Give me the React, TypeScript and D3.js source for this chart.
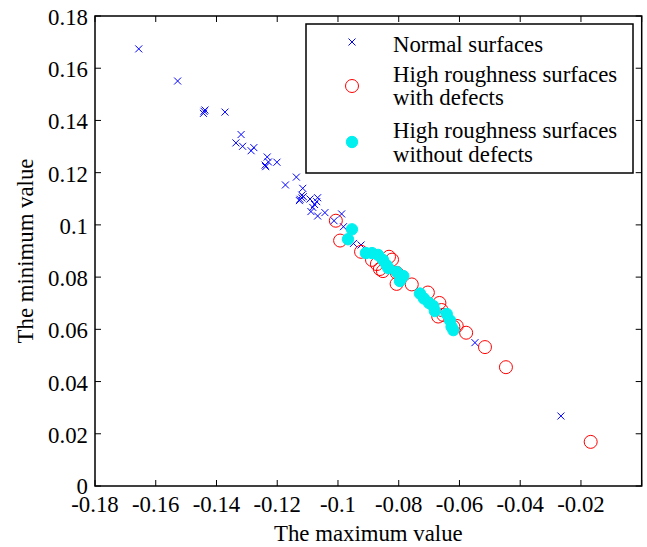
import React from "react";
import * as d3 from "d3";

const normalX = [-0.1656, -0.1528, -0.1441, -0.1438, -0.1443, -0.1372, -0.1319, -0.1336, -0.1314, -0.1286, -0.1277, -0.1233, -0.1229, -0.1238, -0.124, -0.1201, -0.1137, -0.1173, -0.1116, -0.1119, -0.1114, -0.1125, -0.1119, -0.1127, -0.1092, -0.1067, -0.107, -0.1077, -0.1083, -0.1089, -0.1067, -0.1043, -0.1013, -0.0988, -0.0982, -0.0949, -0.0924, -0.0666, -0.0549, -0.0266];
const normalY = [0.1674, 0.1551, 0.1435, 0.144, 0.1427, 0.1432, 0.1346, 0.1314, 0.1301, 0.1284, 0.1296, 0.126, 0.1241, 0.1223, 0.1229, 0.124, 0.1183, 0.1153, 0.114, 0.1114, 0.1108, 0.1098, 0.1103, 0.1093, 0.1099, 0.1104, 0.1089, 0.1078, 0.1067, 0.1051, 0.1034, 0.1047, 0.1016, 0.1042, 0.0993, 0.0929, 0.0923, 0.0668, 0.0549, 0.0268];

const defectX = [-0.1007, -0.0993, -0.0924, -0.0888, -0.0872, -0.0862, -0.0852, -0.0832, -0.0822, -0.0807, -0.0806, -0.0757, -0.0704, -0.0666, -0.0659, -0.0653, -0.067, -0.062, -0.0609, -0.0578, -0.0516, -0.0447, -0.0168];
const defectY = [0.1016, 0.094, 0.0897, 0.0866, 0.085, 0.0831, 0.0823, 0.0878, 0.0867, 0.0774, 0.0816, 0.0772, 0.0741, 0.0701, 0.0674, 0.0655, 0.0649, 0.061, 0.0613, 0.0587, 0.0532, 0.0455, 0.0169];

const smoothX = [-0.0954, -0.0967, -0.0908, -0.0888, -0.0868, -0.0852, -0.084, -0.0834, -0.0807, -0.0785, -0.0796, -0.073, -0.0717, -0.07, -0.0686, -0.0681, -0.0642, -0.0631, -0.0626, -0.062];
const smoothY = [0.0983, 0.0945, 0.0892, 0.0892, 0.0885, 0.0866, 0.0846, 0.0834, 0.082, 0.0804, 0.0785, 0.0737, 0.0718, 0.0701, 0.0689, 0.067, 0.0659, 0.0634, 0.061, 0.0597];

const xTicks = [-0.18, -0.16, -0.14, -0.12, -0.1, -0.08, -0.06, -0.04, -0.02, 0];
const yTicks = [0, 0.02, 0.04, 0.06, 0.08, 0.1, 0.12, 0.14, 0.16, 0.18];

const legendLabels = [["Normal surfaces"], ["High roughness surfaces", "with defects"], ["High roughness surfaces", "without defects"]];

const W = 647, H = 547;
const L = 95, R = 641.7, T = 16, B = 486;
const FONT = "Liberation Serif";
const FS = 22.8;

export default function App() {
  const x = d3.scaleLinear().domain([-0.18, 0]).range([L, R]);
  const y = d3.scaleLinear().domain([0, 0.18]).range([B, T]);
  const tl = 6;
  const fmt = (v: number) => {
    if (v === 0) return "0";
    return String(+v.toFixed(2));
  };
  return (
    <svg width={W} height={H} style={{ position: "absolute", left: 0, top: 0, background: "#fff" }}>
      <rect x={0} y={0} width={W} height={H} fill="#fff" />
      <g stroke="#0000ff" strokeWidth={1}>
        {normalX.map((v, i) => {
          const cx = x(v), cy = y(normalY[i]);
          const s = 3.5;
          return (
            <path key={i} d={`M${cx - s},${cy - s}L${cx + s},${cy + s}M${cx - s},${cy + s}L${cx + s},${cy - s}`} />
          );
        })}
      </g>
      <g stroke="#ff0000" strokeWidth={1} fill="none">
        {defectX.map((v, i) => (
          <circle key={i} cx={x(v)} cy={y(defectY[i])} r={6.5} />
        ))}
      </g>
      <g fill="#00f0f0" stroke="#00f0f0" strokeWidth={1}>
        {smoothX.map((v, i) => (
          <circle key={i} cx={x(v)} cy={y(smoothY[i])} r={5.7} />
        ))}
      </g>
      <rect x={L} y={T} width={R - L} height={B - T} fill="none" stroke="#000" strokeWidth={1.5} />
      <g stroke="#000" strokeWidth={1}>
        {xTicks.map((t, i) => (
          <g key={i}>
            <line x1={x(t)} x2={x(t)} y1={B} y2={B - tl} />
            <line x1={x(t)} x2={x(t)} y1={T} y2={T + tl} />
          </g>
        ))}
        {yTicks.map((t, i) => (
          <g key={i}>
            <line x1={L} x2={L + tl} y1={y(t)} y2={y(t)} />
            <line x1={R} x2={R - tl} y1={y(t)} y2={y(t)} />
          </g>
        ))}
      </g>
      <g fill="#000" fontFamily={FONT} fontSize={FS}>
        {xTicks.filter((t) => t !== 0).map((t, i) => (
          <text key={i} x={x(t)} y={B + 26} textAnchor="middle">{fmt(t)}</text>
        ))}
        {yTicks.map((t, i) => (
          <text key={i} x={L - 7} y={y(t) + (t === 0 ? 7.5 : 9)} textAnchor="end">{fmt(t)}</text>
        ))}
        <text x={(L + R) / 2} y={541} textAnchor="middle">The maximum value</text>
        <text transform={`translate(33,${(T + B) / 2}) rotate(-90)`} textAnchor="middle">The minimum value</text>
      </g>
      <rect x={306} y={24} width={327} height={149} fill="#fff" stroke="#000" strokeWidth={1.5} />
      <path d={`M${352 - 3.5},${42 - 3.5}L${352 + 3.5},${42 + 3.5}M${352 - 3.5},${42 + 3.5}L${352 + 3.5},${42 - 3.5}`} stroke="#0000ff" strokeWidth={1} />
      <circle cx={352} cy={86} r={6.5} fill="none" stroke="#ff0000" strokeWidth={1} />
      <circle cx={352} cy={142} r={5.7} fill="#00f0f0" stroke="#00f0f0" strokeWidth={1} />
      <g fill="#000" fontFamily={FONT} fontSize={FS}>
        <text x={393} y={51.7}>{legendLabels[0][0]}</text>
        <text x={393} y={81.7}>{legendLabels[1][0]}</text>
        <text x={393} y={105}>{legendLabels[1][1]}</text>
        <text x={393} y={138.3}>{legendLabels[2][0]}</text>
        <text x={393} y={161.7}>{legendLabels[2][1]}</text>
      </g>
    </svg>
  );
}
